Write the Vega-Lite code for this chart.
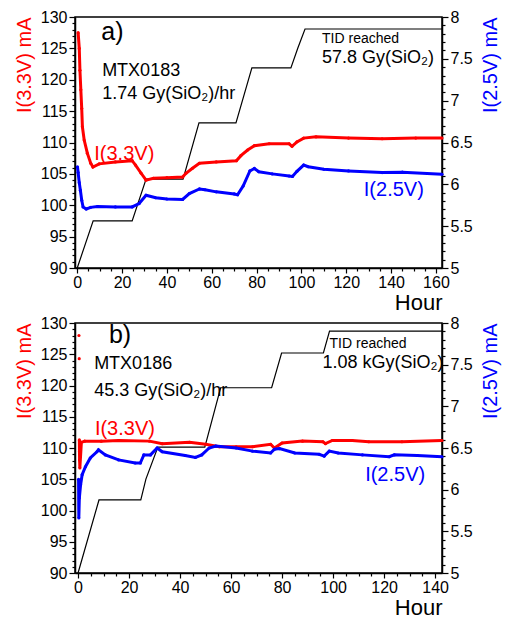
{
  "$schema": "https://vega.github.io/schema/vega-lite/v6.json",
  "autosize": {"type": "pad"},
  "padding": {"left": 13, "top": 8, "right": 5, "bottom": 2},
  "background": "white",
  "spacing": 0,
  "config": {
    "font": "Liberation Sans",
    "view": {"stroke": "black", "strokeWidth": 1.5},
    "axis": {"domainColor": "black", "domainWidth": 1.5, "tickColor": "black", "tickWidth": 1.2, "labelColor": "black", "labelFontSize": 16, "labelFont": "Liberation Sans", "titleFont": "Liberation Sans", "titleFontWeight": "normal", "grid": false, "labelFlush": false, "labelOverlap": false},
    "text": {"font": "Liberation Sans"}
  },
  "datasets": {
    "a33": [
      {"h": 0.4, "v": 127.5}, {"h": 0.9, "v": 125}, {"h": 1.2, "v": 121.5}, {"h": 1.6, "v": 118.4}, {"h": 2.0, "v": 115.4}, {"h": 2.3, "v": 112.5}, {"h": 3.1, "v": 110.4}, {"h": 4.5, "v": 108.3}, {"h": 6.0, "v": 106.7}, {"h": 7.0, "v": 106.1}, {"h": 9.8, "v": 106.6}, {"h": 17, "v": 106.9}, {"h": 24.5, "v": 107.1}, {"h": 26, "v": 106.4}, {"h": 28.5, "v": 105.1}, {"h": 30.7, "v": 104.0}, {"h": 34, "v": 104.3}, {"h": 40, "v": 104.4}, {"h": 47, "v": 104.5}, {"h": 48.5, "v": 105.1}, {"h": 51.4, "v": 105.9}, {"h": 54.5, "v": 106.7}, {"h": 62, "v": 106.9}, {"h": 71, "v": 107.1}, {"h": 73, "v": 107.9}, {"h": 76, "v": 108.8}, {"h": 79, "v": 109.5}, {"h": 85.6, "v": 109.8}, {"h": 94.5, "v": 109.8}, {"h": 95.8, "v": 109.4}, {"h": 98, "v": 110.1}, {"h": 101, "v": 110.7}, {"h": 106.5, "v": 110.9}, {"h": 121, "v": 110.7}, {"h": 136, "v": 110.6}, {"h": 151, "v": 110.7}, {"h": 162.7, "v": 110.7}
    ],
    "a25": [
      {"h": 0.1, "v": 6.21}, {"h": 0.4, "v": 6.14}, {"h": 0.9, "v": 6.02}, {"h": 1.4, "v": 5.93}, {"h": 2.0, "v": 5.81}, {"h": 2.6, "v": 5.73}, {"h": 4, "v": 5.705}, {"h": 6, "v": 5.725}, {"h": 9, "v": 5.735}, {"h": 17, "v": 5.73}, {"h": 24.5, "v": 5.73}, {"h": 27.6, "v": 5.77}, {"h": 30.7, "v": 5.87}, {"h": 35, "v": 5.84}, {"h": 40, "v": 5.825}, {"h": 47, "v": 5.82}, {"h": 50, "v": 5.89}, {"h": 54.5, "v": 5.945}, {"h": 57, "v": 5.935}, {"h": 62, "v": 5.91}, {"h": 70, "v": 5.885}, {"h": 71.5, "v": 5.875}, {"h": 74, "v": 5.98}, {"h": 77, "v": 6.16}, {"h": 79, "v": 6.19}, {"h": 81, "v": 6.15}, {"h": 87, "v": 6.125}, {"h": 94.5, "v": 6.10}, {"h": 96, "v": 6.095}, {"h": 98, "v": 6.155}, {"h": 101, "v": 6.23}, {"h": 103, "v": 6.21}, {"h": 110, "v": 6.18}, {"h": 121, "v": 6.16}, {"h": 136, "v": 6.14}, {"h": 145, "v": 6.145}, {"h": 162.7, "v": 6.12}
    ],
    "adose": [
      {"h": 0, "d": 0}, {"h": 7.1, "d": 11.4}, {"h": 24.5, "d": 11.4}, {"h": 30.7, "d": 21.5}, {"h": 47.2, "d": 21.5}, {"h": 54.3, "d": 35.1}, {"h": 70.8, "d": 35.1}, {"h": 77.9, "d": 48.4}, {"h": 95.3, "d": 48.4}, {"h": 98.4, "d": 53.2}, {"h": 101.6, "d": 57.8}, {"h": 162.7, "d": 57.8}
    ],
    "b33": [
      {"h": 0.5, "v": 111.3}, {"h": 0.55, "v": 109.4}, {"h": 0.6, "v": 108.1}, {"h": 0.7, "v": 106.8}, {"h": 1.3, "v": 110.9}, {"h": 2.6, "v": 111.1}, {"h": 9.1, "v": 111.1}, {"h": 15.9, "v": 111.2}, {"h": 28, "v": 111.1}, {"h": 33, "v": 110.7}, {"h": 43.7, "v": 110.9}, {"h": 50, "v": 110.6}, {"h": 55.4, "v": 110.2}, {"h": 62, "v": 110.2}, {"h": 68.4, "v": 110.2}, {"h": 75.5, "v": 110.6}, {"h": 77, "v": 110.0}, {"h": 80, "v": 110.8}, {"h": 88, "v": 111.1}, {"h": 96, "v": 111.0}, {"h": 97, "v": 110.7}, {"h": 99.7, "v": 111.2}, {"h": 107.5, "v": 111.2}, {"h": 114, "v": 111.0}, {"h": 127, "v": 111.0}, {"h": 142.7, "v": 111.2}
    ],
    "b33early": [
      {"h": 0.35, "v": 128}, {"h": 0.45, "v": 124.3}
    ],
    "b25": [
      {"h": 0.2, "v": 6.125}, {"h": 0.3, "v": 5.66}, {"h": 0.5, "v": 5.9}, {"h": 1, "v": 6.06}, {"h": 1.6, "v": 6.18}, {"h": 2.9, "v": 6.275}, {"h": 4.8, "v": 6.38}, {"h": 7.4, "v": 6.455}, {"h": 8, "v": 6.4775}, {"h": 10.7, "v": 6.4175}, {"h": 15.9, "v": 6.3575}, {"h": 22.4, "v": 6.32}, {"h": 24.4, "v": 6.32}, {"h": 25.8, "v": 6.4175}, {"h": 28.4, "v": 6.4175}, {"h": 31, "v": 6.5}, {"h": 33, "v": 6.455}, {"h": 42, "v": 6.41}, {"h": 46, "v": 6.3875}, {"h": 48.5, "v": 6.4175}, {"h": 51.4, "v": 6.5}, {"h": 54, "v": 6.5225}, {"h": 62, "v": 6.5}, {"h": 68.4, "v": 6.4625}, {"h": 75.5, "v": 6.44}, {"h": 77, "v": 6.485}, {"h": 79, "v": 6.4925}, {"h": 85, "v": 6.44}, {"h": 94.5, "v": 6.425}, {"h": 96.5, "v": 6.4025}, {"h": 98.5, "v": 6.4625}, {"h": 102, "v": 6.44}, {"h": 111.5, "v": 6.4175}, {"h": 122, "v": 6.395}, {"h": 124, "v": 6.4175}, {"h": 133, "v": 6.41}, {"h": 142.7, "v": 6.395}
    ],
    "bdose": [
      {"h": 0, "d": 0}, {"h": 8.2, "d": 326}, {"h": 24.6, "d": 326}, {"h": 26.6, "d": 419}, {"h": 31.3, "d": 562}, {"h": 49.7, "d": 562}, {"h": 55.9, "d": 827}, {"h": 75.9, "d": 827}, {"h": 79.8, "d": 982}, {"h": 96.2, "d": 982}, {"h": 98.6, "d": 1080}, {"h": 142.7, "d": 1080}
    ]
  },
  "vconcat": [
    {
      "width": 367,
      "height": 251,
      "resolve": {"scale": {"y": "independent"}, "axis": {"x": "independent", "y": "independent"}},
      "layer": [
        {
          "data": {"name": "adose"},
          "mark": {"type": "line", "color": "black", "strokeWidth": 1.2},
          "encoding": {
            "x": {"field": "h", "type": "quantitative", "scale": {"domain": [-1, 162.7], "nice": false, "zero": false}, "axis": null},
            "y": {"field": "d", "type": "quantitative", "scale": {"domain": [0, 60.7], "nice": false, "zero": false}, "axis": null}
          }
        },
        {
          "data": {"name": "a33"},
          "mark": {"type": "line", "color": "#ff0000", "strokeWidth": 3, "point": {"filled": true, "size": 10, "color": "#ff0000"}},
          "encoding": {
            "x": {"field": "h", "type": "quantitative",
              "axis": {"values": [0, 5, 10, 15, 20, 25, 30, 35, 40, 45, 50, 55, 60, 65, 70, 75, 80, 85, 90, 95, 100, 105, 110, 115, 120, 125, 130, 135, 140, 145, 150, 155, 160],
                "labelExpr": "datum.value % 20 === 0 ? datum.label : ''",
                "tickSize": {"condition": {"test": "datum.value % 20 === 0", "value": 5}, "value": 3},
                "title": "Hour", "titleAnchor": "end", "titleFontSize": 22, "labelPadding": 1, "titlePadding": 2}},
            "y": {"field": "v", "type": "quantitative", "scale": {"domain": [90, 130], "nice": false, "zero": false},
              "axis": {"orient": "left", "values": [90, 91, 92, 93, 94, 95, 96, 97, 98, 99, 100, 101, 102, 103, 104, 105, 106, 107, 108, 109, 110, 111, 112, 113, 114, 115, 116, 117, 118, 119, 120, 121, 122, 123, 124, 125, 126, 127, 128, 129, 130],
                "labelExpr": "datum.value % 5 === 0 ? datum.label : ''",
                "tickSize": {"condition": {"test": "datum.value % 5 === 0", "value": 6}, "value": 3},
                "title": "I(3.3V) mA", "titleColor": "#ff0000", "titleFontSize": 20, "titleAnchor": "end", "titleAlign": "right", "labelPadding": 2, "titlePadding": 6}}
          }
        },
        {
          "data": {"name": "a25"},
          "mark": {"type": "line", "color": "#0000ff", "strokeWidth": 3, "point": {"filled": true, "size": 10, "color": "#0000ff"}},
          "encoding": {
            "x": {"field": "h", "type": "quantitative", "axis": null},
            "y": {"field": "v", "type": "quantitative", "scale": {"domain": [5, 8], "nice": false, "zero": false},
              "axis": {"orient": "right", "values": [5, 5.1, 5.2, 5.3, 5.4, 5.5, 5.6, 5.7, 5.8, 5.9, 6, 6.1, 6.2, 6.3, 6.4, 6.5, 6.6, 6.7, 6.8, 6.9, 7, 7.1, 7.2, 7.3, 7.4, 7.5, 7.6, 7.7, 7.8, 7.9, 8], "format": "~g",
                "labelExpr": "abs(datum.value * 2 - round(datum.value * 2)) < 0.001 ? datum.label : ''",
                "tickSize": {"condition": {"test": "abs(datum.value * 2 - round(datum.value * 2)) < 0.001", "value": 6}, "value": 3},
                "title": "I(2.5V) mA", "titleColor": "#0000ff", "titleFontSize": 20, "titleAngle": 270, "titleAnchor": "end", "titleAlign": "right", "titleBaseline": "top", "labelPadding": 2, "titlePadding": 8}}
          }
        },
        {
          "data": {"values": [{"h": 7.6, "v": 107.2, "t": "I(3.3V)"}]},
          "mark": {"type": "text", "color": "#ff0000", "fontSize": 20, "align": "left", "baseline": "alphabetic"},
          "encoding": {
            "x": {"field": "h", "type": "quantitative", "axis": null},
            "y": {"field": "v", "type": "quantitative", "scale": {"domain": [90, 130], "nice": false, "zero": false}, "axis": null},
            "text": {"field": "t"}
          }
        },
        {
          "data": {"values": [{"h": 154.6, "v": 5.86, "t": "I(2.5V)"}]},
          "mark": {"type": "text", "color": "#0000ff", "fontSize": 20, "align": "right", "baseline": "alphabetic"},
          "encoding": {
            "x": {"field": "h", "type": "quantitative", "axis": null},
            "y": {"field": "v", "type": "quantitative", "scale": {"domain": [5, 8], "nice": false, "zero": false}, "axis": null},
            "text": {"field": "t"}
          }
        },
        {
          "data": {"values": [{"h": 10.7, "v": 126.3, "t": "a)"}]},
          "mark": {"type": "text", "color": "black", "fontSize": 25, "align": "left", "baseline": "alphabetic"},
          "encoding": {
            "x": {"field": "h", "type": "quantitative", "axis": null},
            "y": {"field": "v", "type": "quantitative", "scale": {"domain": [90, 130], "nice": false, "zero": false}, "axis": null},
            "text": {"field": "t"}
          }
        },
        {
          "data": {"values": [{"h": 11.1, "v": 120.6, "t": "MTX0183"}, {"h": 11.1, "v": 116.9, "t": "1.74 Gy(SiO₂)/hr"}]},
          "mark": {"type": "text", "color": "black", "fontSize": 18, "align": "left", "baseline": "alphabetic"},
          "encoding": {
            "x": {"field": "h", "type": "quantitative", "axis": null},
            "y": {"field": "v", "type": "quantitative", "scale": {"domain": [90, 130], "nice": false, "zero": false}, "axis": null},
            "text": {"field": "t"}
          }
        },
        {
          "data": {"values": [{"h": 109.2, "d": 54.4, "t": "TID reached"}]},
          "mark": {"type": "text", "color": "black", "fontSize": 14, "align": "left", "baseline": "alphabetic"},
          "encoding": {
            "x": {"field": "h", "type": "quantitative", "axis": null},
            "y": {"field": "d", "type": "quantitative", "scale": {"domain": [0, 60.7], "nice": false, "zero": false}, "axis": null},
            "text": {"field": "t"}
          }
        },
        {
          "data": {"values": [{"h": 109.2, "d": 49.6, "t": "57.8 Gy(SiO₂)"}]},
          "mark": {"type": "text", "color": "black", "fontSize": 18, "align": "left", "baseline": "alphabetic"},
          "encoding": {
            "x": {"field": "h", "type": "quantitative", "axis": null},
            "y": {"field": "d", "type": "quantitative", "scale": {"domain": [0, 60.7], "nice": false, "zero": false}, "axis": null},
            "text": {"field": "t"}
          }
        }
      ]
    },
    {
      "width": 367,
      "height": 250,
      "resolve": {"scale": {"y": "independent"}, "axis": {"x": "independent", "y": "independent"}},
      "layer": [
        {
          "data": {"name": "bdose"},
          "mark": {"type": "line", "color": "black", "strokeWidth": 1.2},
          "encoding": {
            "x": {"field": "h", "type": "quantitative", "scale": {"domain": [-1.2, 142.7], "nice": false, "zero": false}, "axis": null},
            "y": {"field": "d", "type": "quantitative", "scale": {"domain": [0, 1116], "nice": false, "zero": false}, "axis": null}
          }
        },
        {
          "data": {"name": "b33"},
          "mark": {"type": "line", "color": "#ff0000", "strokeWidth": 3, "point": {"filled": true, "size": 10, "color": "#ff0000"}},
          "encoding": {
            "x": {"field": "h", "type": "quantitative",
              "axis": {"values": [0, 5, 10, 15, 20, 25, 30, 35, 40, 45, 50, 55, 60, 65, 70, 75, 80, 85, 90, 95, 100, 105, 110, 115, 120, 125, 130, 135, 140],
                "labelExpr": "datum.value % 20 === 0 ? datum.label : ''",
                "tickSize": {"condition": {"test": "datum.value % 20 === 0", "value": 5}, "value": 3},
                "title": "Hour", "titleAnchor": "end", "titleFontSize": 22, "labelPadding": 1, "titlePadding": 2}},
            "y": {"field": "v", "type": "quantitative", "scale": {"domain": [90, 130], "nice": false, "zero": false},
              "axis": {"orient": "left", "values": [90, 91, 92, 93, 94, 95, 96, 97, 98, 99, 100, 101, 102, 103, 104, 105, 106, 107, 108, 109, 110, 111, 112, 113, 114, 115, 116, 117, 118, 119, 120, 121, 122, 123, 124, 125, 126, 127, 128, 129, 130],
                "labelExpr": "datum.value % 5 === 0 ? datum.label : ''",
                "tickSize": {"condition": {"test": "datum.value % 5 === 0", "value": 6}, "value": 3},
                "title": "I(3.3V) mA", "titleColor": "#ff0000", "titleFontSize": 20, "titleAnchor": "end", "titleAlign": "right", "labelPadding": 2, "titlePadding": 6}}
          }
        },
        {
          "data": {"name": "b25"},
          "mark": {"type": "line", "color": "#0000ff", "strokeWidth": 3, "point": {"filled": true, "size": 10, "color": "#0000ff"}},
          "encoding": {
            "x": {"field": "h", "type": "quantitative", "axis": null},
            "y": {"field": "v", "type": "quantitative", "scale": {"domain": [5, 8], "nice": false, "zero": false},
              "axis": {"orient": "right", "values": [5, 5.1, 5.2, 5.3, 5.4, 5.5, 5.6, 5.7, 5.8, 5.9, 6, 6.1, 6.2, 6.3, 6.4, 6.5, 6.6, 6.7, 6.8, 6.9, 7, 7.1, 7.2, 7.3, 7.4, 7.5, 7.6, 7.7, 7.8, 7.9, 8], "format": "~g",
                "labelExpr": "abs(datum.value * 2 - round(datum.value * 2)) < 0.001 ? datum.label : ''",
                "tickSize": {"condition": {"test": "abs(datum.value * 2 - round(datum.value * 2)) < 0.001", "value": 6}, "value": 3},
                "title": "I(2.5V) mA", "titleColor": "#0000ff", "titleFontSize": 20, "titleAngle": 270, "titleAnchor": "end", "titleAlign": "right", "titleBaseline": "top", "labelPadding": 2, "titlePadding": 8}}
          }
        },
        {
          "data": {"name": "b33early"},
          "mark": {"type": "point", "filled": true, "size": 10, "color": "#ff0000", "opacity": 1},
          "encoding": {
            "x": {"field": "h", "type": "quantitative", "axis": null},
            "y": {"field": "v", "type": "quantitative", "scale": {"domain": [90, 130], "nice": false, "zero": false}, "axis": null}
          }
        },
        {
          "data": {"values": [{"h": 6.6, "v": 112.1, "t": "I(3.3V)"}]},
          "mark": {"type": "text", "color": "#ff0000", "fontSize": 20, "align": "left", "baseline": "alphabetic"},
          "encoding": {
            "x": {"field": "h", "type": "quantitative", "axis": null},
            "y": {"field": "v", "type": "quantitative", "scale": {"domain": [90, 130], "nice": false, "zero": false}, "axis": null},
            "text": {"field": "t"}
          }
        },
        {
          "data": {"values": [{"h": 136.1, "v": 6.10, "t": "I(2.5V)"}]},
          "mark": {"type": "text", "color": "#0000ff", "fontSize": 20, "align": "right", "baseline": "alphabetic"},
          "encoding": {
            "x": {"field": "h", "type": "quantitative", "axis": null},
            "y": {"field": "v", "type": "quantitative", "scale": {"domain": [5, 8], "nice": false, "zero": false}, "axis": null},
            "text": {"field": "t"}
          }
        },
        {
          "data": {"values": [{"h": 12.1, "v": 126.8, "t": "b)"}]},
          "mark": {"type": "text", "color": "black", "fontSize": 25, "align": "left", "baseline": "alphabetic"},
          "encoding": {
            "x": {"field": "h", "type": "quantitative", "axis": null},
            "y": {"field": "v", "type": "quantitative", "scale": {"domain": [90, 130], "nice": false, "zero": false}, "axis": null},
            "text": {"field": "t"}
          }
        },
        {
          "data": {"values": [{"h": 6.3, "v": 122.6, "t": "MTX0186"}, {"h": 6.3, "v": 118.3, "t": "45.3 Gy(SiO₂)/hr"}]},
          "mark": {"type": "text", "color": "black", "fontSize": 18, "align": "left", "baseline": "alphabetic"},
          "encoding": {
            "x": {"field": "h", "type": "quantitative", "axis": null},
            "y": {"field": "v", "type": "quantitative", "scale": {"domain": [90, 130], "nice": false, "zero": false}, "axis": null},
            "text": {"field": "t"}
          }
        },
        {
          "data": {"values": [{"h": 98.6, "d": 1004, "t": "TID reached"}]},
          "mark": {"type": "text", "color": "black", "fontSize": 14, "align": "left", "baseline": "alphabetic"},
          "encoding": {
            "x": {"field": "h", "type": "quantitative", "axis": null},
            "y": {"field": "d", "type": "quantitative", "scale": {"domain": [0, 1116], "nice": false, "zero": false}, "axis": null},
            "text": {"field": "t"}
          }
        },
        {
          "data": {"values": [{"h": 95.8, "d": 915, "t": "1.08 kGy(SiO₂)"}]},
          "mark": {"type": "text", "color": "black", "fontSize": 18, "align": "left", "baseline": "alphabetic", "clip": true},
          "encoding": {
            "x": {"field": "h", "type": "quantitative", "axis": null},
            "y": {"field": "d", "type": "quantitative", "scale": {"domain": [0, 1116], "nice": false, "zero": false}, "axis": null},
            "text": {"field": "t"}
          }
        }
      ]
    }
  ]
}
